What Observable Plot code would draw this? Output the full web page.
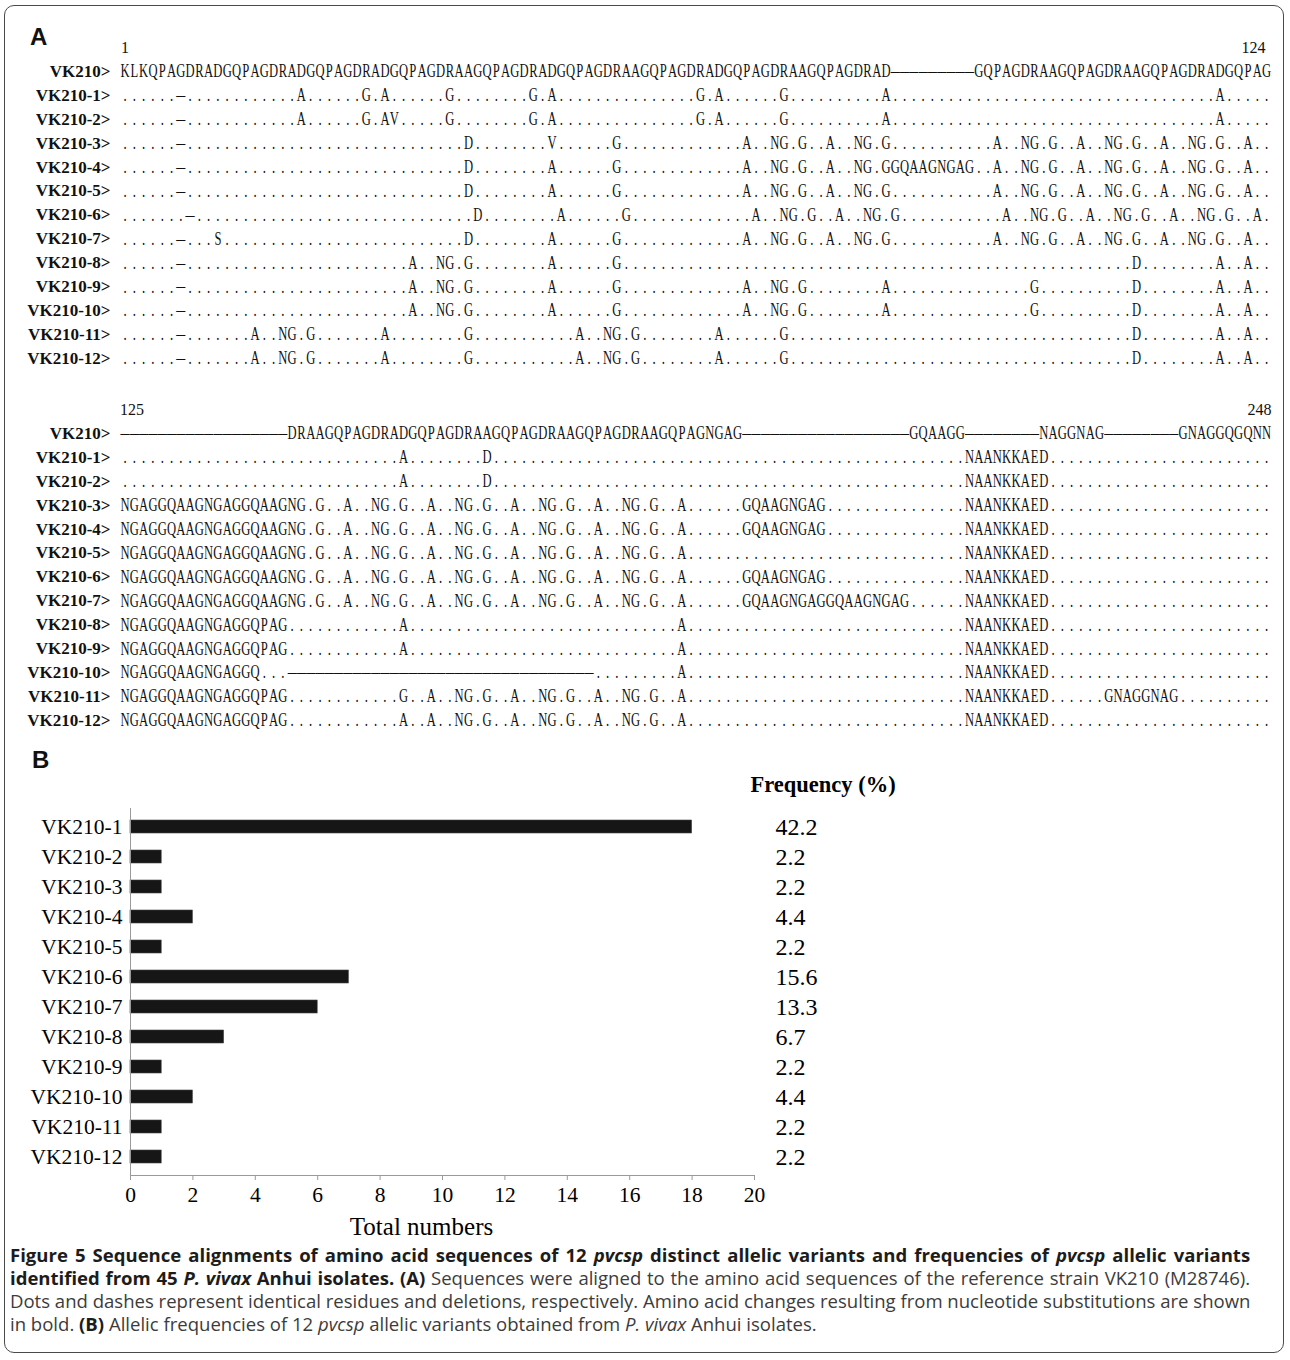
<!DOCTYPE html>
<html>
<head>
<meta charset="utf-8">
<script src="https://cdn.jsdelivr.net/npm/d3@7"></script>
<script src="https://cdn.jsdelivr.net/npm/@observablehq/plot@0.6"></script>
<style>
html,body{margin:0;padding:0;background:#fff;overflow:hidden;}
#page{position:relative;width:1290px;height:1360px;background:#fff;}
.abs{position:absolute;}
.box{position:absolute;left:4px;top:5px;width:1280px;height:1348px;border:1.5px solid #4a4a4a;border-radius:10px;box-sizing:border-box;}
.panel{position:absolute;font-family:"Liberation Sans",Arial,sans-serif;font-weight:bold;font-size:24px;line-height:24px;color:#111;}
.cap{position:absolute;left:10px;font-family:"Open Sans",sans-serif;font-size:18px;line-height:23px;white-space:nowrap;transform-origin:0 0;transform:scaleX(1.03);color:#3c3c3c;}
.cap.j{width:1204px;text-align:justify;text-align-last:justify;}
.cap b{color:#1c1c1c;font-weight:700;}
</style>
</head>
<body>
<div id="page">
  <div class="box"></div>
  <div class="panel" style="left:30px;top:25px;">A</div>
  <div class="panel" style="left:32px;top:748px;">B</div>
  <div id="al1" class="abs" style="left:0;top:0;"></div>
  <div id="al2" class="abs" style="left:0;top:380px;"></div>
  <div id="bars" class="abs" style="left:0;top:760px;"></div>
  <div class="cap j" style="top:1244px;"><b>Figure 5 Sequence alignments of amino acid sequences of 12 <i>pvcsp</i> distinct allelic variants and frequencies of <i>pvcsp</i> allelic variants</b></div>
  <div class="cap j" style="top:1267px;"><b>identified from 45 <i>P. vivax</i> Anhui isolates. (A)</b> Sequences were aligned to the amino acid sequences of the reference strain VK210 (M28746).</div>
  <div class="cap j" style="top:1290px;">Dots and dashes represent identical residues and deletions, respectively. Amino acid changes resulting from nucleotide substitutions are shown</div>
  <div class="cap" style="top:1313px;">in bold. <b>(B)</b> Allelic frequencies of 12 <i>pvcsp</i> allelic variants obtained from <i>P. vivax</i> Anhui isolates.</div>
</div>
<script>
// ---------- Panel A data ----------
const alignCols = 124;
const rowNames = ["VK210","VK210-1","VK210-2","VK210-3","VK210-4","VK210-5","VK210-6","VK210-7","VK210-8","VK210-9","VK210-10","VK210-11","VK210-12"];
const ref1 = "KLKQPAGDRADGQPAGDRADGQPAGDRADGQPAGDRAAGQPAGDRADGQPAGDRAAGQPAGDRADGQPAGDRAAGQPAGDRAD---------GQPAGDRAAGQPAGDRAAGQPAGDRADGQPAG";
const ref2 = "------------------DRAAGQPAGDRADGQPAGDRAAGQPAGDRAAGQPAGDRAAGQPAGNGAG------------------GQAAGG--------NAGGNAG--------GNAGGQGQNN";
// variant rows: [start column (0-based), residues shown]; all other columns are "." (identical)
const block1Changes = [
  [[6,"-"],[19,"A"],[26,"G"],[28,"A"],[35,"G"],[44,"G"],[46,"A"],[62,"G"],[64,"A"],[71,"G"],[82,"A"],[118,"A"]],
  [[6,"-"],[19,"A"],[26,"G"],[28,"AV"],[35,"G"],[44,"G"],[46,"A"],[62,"G"],[64,"A"],[71,"G"],[82,"A"],[118,"A"]],
  [[6,"-"],[37,"D"],[46,"V"],[53,"G"],[67,"A"],[70,"NG"],[73,"G"],[76,"A"],[79,"NG"],[82,"G"],[94,"A"],[97,"NG"],[100,"G"],[103,"A"],[106,"NG"],[109,"G"],[112,"A"],[115,"NG"],[118,"G"],[121,"A"]],
  [[6,"-"],[37,"D"],[46,"A"],[53,"G"],[67,"A"],[70,"NG"],[73,"G"],[76,"A"],[79,"NG"],[82,"GGQAAGNGAG"],[94,"A"],[97,"NG"],[100,"G"],[103,"A"],[106,"NG"],[109,"G"],[112,"A"],[115,"NG"],[118,"G"],[121,"A"]],
  [[6,"-"],[37,"D"],[46,"A"],[53,"G"],[67,"A"],[70,"NG"],[73,"G"],[76,"A"],[79,"NG"],[82,"G"],[94,"A"],[97,"NG"],[100,"G"],[103,"A"],[106,"NG"],[109,"G"],[112,"A"],[115,"NG"],[118,"G"],[121,"A"]],
  [[7,"-"],[38,"D"],[47,"A"],[54,"G"],[68,"A"],[71,"NG"],[74,"G"],[77,"A"],[80,"NG"],[83,"G"],[95,"A"],[98,"NG"],[101,"G"],[104,"A"],[107,"NG"],[110,"G"],[113,"A"],[116,"NG"],[119,"G"],[122,"A"]],
  [[6,"-"],[10,"S"],[37,"D"],[46,"A"],[53,"G"],[67,"A"],[70,"NG"],[73,"G"],[76,"A"],[79,"NG"],[82,"G"],[94,"A"],[97,"NG"],[100,"G"],[103,"A"],[106,"NG"],[109,"G"],[112,"A"],[115,"NG"],[118,"G"],[121,"A"]],
  [[6,"-"],[31,"A"],[34,"NG"],[37,"G"],[46,"A"],[53,"G"],[109,"D"],[118,"A"],[121,"A"]],
  [[6,"-"],[31,"A"],[34,"NG"],[37,"G"],[46,"A"],[53,"G"],[67,"A"],[70,"NG"],[73,"G"],[82,"A"],[98,"G"],[109,"D"],[118,"A"],[121,"A"]],
  [[6,"-"],[31,"A"],[34,"NG"],[37,"G"],[46,"A"],[53,"G"],[67,"A"],[70,"NG"],[73,"G"],[82,"A"],[98,"G"],[109,"D"],[118,"A"],[121,"A"]],
  [[6,"-"],[14,"A"],[17,"NG"],[20,"G"],[28,"A"],[37,"G"],[49,"A"],[52,"NG"],[55,"G"],[64,"A"],[71,"G"],[109,"D"],[118,"A"],[121,"A"]],
  [[6,"-"],[14,"A"],[17,"NG"],[20,"G"],[28,"A"],[37,"G"],[49,"A"],[52,"NG"],[55,"G"],[64,"A"],[71,"G"],[109,"D"],[118,"A"],[121,"A"]]
];
const block2Changes = [
  [[30,"A"],[39,"D"],[91,"NAANKKAED"]],
  [[30,"A"],[39,"D"],[91,"NAANKKAED"]],
  [[0,"NGAGGQAAGNGAGGQAAGNG"],[21,"G"],[24,"A"],[27,"NG"],[30,"G"],[33,"A"],[36,"NG"],[39,"G"],[42,"A"],[45,"NG"],[48,"G"],[51,"A"],[54,"NG"],[57,"G"],[60,"A"],[67,"GQAAGNGAG"],[91,"NAANKKAED"]],
  [[0,"NGAGGQAAGNGAGGQAAGNG"],[21,"G"],[24,"A"],[27,"NG"],[30,"G"],[33,"A"],[36,"NG"],[39,"G"],[42,"A"],[45,"NG"],[48,"G"],[51,"A"],[54,"NG"],[57,"G"],[60,"A"],[67,"GQAAGNGAG"],[91,"NAANKKAED"]],
  [[0,"NGAGGQAAGNGAGGQAAGNG"],[21,"G"],[24,"A"],[27,"NG"],[30,"G"],[33,"A"],[36,"NG"],[39,"G"],[42,"A"],[45,"NG"],[48,"G"],[51,"A"],[54,"NG"],[57,"G"],[60,"A"],[91,"NAANKKAED"]],
  [[0,"NGAGGQAAGNGAGGQAAGNG"],[21,"G"],[24,"A"],[27,"NG"],[30,"G"],[33,"A"],[36,"NG"],[39,"G"],[42,"A"],[45,"NG"],[48,"G"],[51,"A"],[54,"NG"],[57,"G"],[60,"A"],[67,"GQAAGNGAG"],[91,"NAANKKAED"]],
  [[0,"NGAGGQAAGNGAGGQAAGNG"],[21,"G"],[24,"A"],[27,"NG"],[30,"G"],[33,"A"],[36,"NG"],[39,"G"],[42,"A"],[45,"NG"],[48,"G"],[51,"A"],[54,"NG"],[57,"G"],[60,"A"],[67,"GQAAGNGAGGQAAGNGAG"],[91,"NAANKKAED"]],
  [[0,"NGAGGQAAGNGAGGQPAG"],[30,"A"],[60,"A"],[91,"NAANKKAED"]],
  [[0,"NGAGGQAAGNGAGGQPAG"],[30,"A"],[60,"A"],[91,"NAANKKAED"]],
  [[0,"NGAGGQAAGNGAGGQ"],[18,"---------------------------------"],[60,"A"],[91,"NAANKKAED"]],
  [[0,"NGAGGQAAGNGAGGQPAG"],[30,"G"],[33,"A"],[36,"NG"],[39,"G"],[42,"A"],[45,"NG"],[48,"G"],[51,"A"],[54,"NG"],[57,"G"],[60,"A"],[91,"NAANKKAED"],[106,"GNAGGNAG"]],
  [[0,"NGAGGQAAGNGAGGQPAG"],[30,"A"],[33,"A"],[36,"NG"],[39,"G"],[42,"A"],[45,"NG"],[48,"G"],[51,"A"],[54,"NG"],[57,"G"],[60,"A"],[91,"NAANKKAED"]]
];
const posLabels1 = ["1","124"];
const posLabels2 = ["125","248"];
const posCols = [0,123];

// ---------- Panel B data ----------
const variants = ["VK210-1","VK210-2","VK210-3","VK210-4","VK210-5","VK210-6","VK210-7","VK210-8","VK210-9","VK210-10","VK210-11","VK210-12"];
const counts = [18,1,1,2,1,7,6,3,1,2,1,1];
const freqs = ["42.2","2.2","2.2","4.4","2.2","15.6","13.3","6.7","2.2","4.4","2.2","2.2"];
const xTicks = [0,2,4,6,8,10,12,14,16,18,20];

// ---------- build alignment cells ----------
function cells(refStr, changes) {
  const rows = [refStr.split("")];
  for (const segs of changes) {
    const r = new Array(alignCols).fill(".");
    for (const [s, t] of segs) for (let k = 0; k < t.length; k++) r[s + k] = t[k];
    rows.push(r);
  }
  const out = [];
  rows.forEach((r, i) => r.forEach((c, j) => out.push({row: rowNames[i], col: j, ch: c})));
  return out;
}

// narrow the residue glyphs horizontally (the reference uses a condensed serif)
function condense(svg) {
  const g = svg.querySelector('g[aria-label="text"]');
  if (!g) return;
  g.querySelectorAll("text").forEach(el => {
    const t = el.getAttribute("transform");
    if (t) {
      el.setAttribute("transform", t + " scale(0.7,1)");
    } else {
      const x = parseFloat(el.getAttribute("x")) || 0;
      const yAttr = el.getAttribute("y") || "0";
      const yNum = yAttr.endsWith("em") ? 0 : (parseFloat(yAttr) || 0);
      el.removeAttribute("x");
      if (!yAttr.endsWith("em")) el.removeAttribute("y");
      el.setAttribute("transform", `translate(${x},${yNum}) scale(0.7,1)`);
    }
  });
}

function alignPlot(data, labels, yRange, height, anchors) {
  const residues = data.filter(d => d.ch !== "-");
  const gaps = data.filter(d => d.ch === "-");
  const svg = Plot.plot({
    width: 1290, height,
    marginLeft: 120, marginRight: 20, marginTop: 0, marginBottom: 0,
    style: {fontFamily: "'Liberation Serif','Times New Roman',serif", background: "transparent", color: "#111"},
    x: {domain: [0, alignCols - 1], range: [124.6, 1266], axis: null},
    y: {type: "point", domain: ["#", ...rowNames], range: yRange, padding: 0, round: false},
    marks: [
      Plot.axisY({anchor: "left", tickSize: 0, tickPadding: 10, fontSize: 17, fontWeight: "bold", label: null,
                  tickFormat: d => d === "#" ? "" : d + ">"}),
      Plot.text(residues, {x: "col", y: "row", text: "ch", fontSize: 18}),
      Plot.text(gaps, {x: "col", y: "row", text: () => "\u2013", fontSize: 18}),
      Plot.text([labels[0]], {x: [posCols[0]], y: () => "#", text: d => d, fontSize: 16, textAnchor: anchors[0][0], dx: anchors[0][1]}),
      Plot.text([labels[1]], {x: [posCols[1]], y: () => "#", text: d => d, fontSize: 16, textAnchor: anchors[1][0], dx: anchors[1][1]})
    ]
  });
  condense(svg);
  return svg;
}

document.getElementById("al1").append(
  alignPlot(cells(ref1, block1Changes), posLabels1, [47, 358], 380, [["middle", 0], ["end", -1]])
);
document.getElementById("al2").append(
  alignPlot(cells(ref2, block2Changes), posLabels2, [409 - 380, 720 - 380], 360, [["start", -5], ["end", 5]])
);

// ---------- Panel B ----------
const table = variants.map((v, i) => ({variant: v, count: counts[i], freq: freqs[i]}));
const bars = Plot.plot({
  width: 920, height: 480,
  marginTop: 48, marginBottom: 65, marginLeft: 130, marginRight: 166,
  style: {fontFamily: "'Liberation Serif','Times New Roman',serif", fontSize: "21px", background: "transparent", color: "#000"},
  x: {domain: [0, 20]},
  y: {domain: variants, paddingInner: 0.55, paddingOuter: 0.29},
  marks: [
    Plot.barX(table, {x: "count", y: "variant", fill: "#161616", stroke: "#444", strokeWidth: 0.6}),
    Plot.ruleX([0], {stroke: "#9a9a9a"}),
    Plot.frame({anchor: "bottom", stroke: "#9a9a9a"}),
    Plot.axisY({tickSize: 0, tickPadding: 8, fontSize: 21.5, label: null}),
    Plot.axisX({ticks: xTicks, tickSize: 5, tickPadding: 6, stroke: "#9a9a9a", fontSize: 21.5, label: null}),
    Plot.text(["Total numbers"], {frameAnchor: "bottom", text: d => d, lineAnchor: "middle", textAnchor: "middle", dy: 51, dx: -21, fontSize: 25}),
    Plot.text(table, {y: "variant", text: "freq", frameAnchor: "right", textAnchor: "start", dx: 21, fontSize: 24}),
    Plot.text(["Frequency (%)"], {frameAnchor: "top-right", text: d => d, textAnchor: "start", lineAnchor: "middle", dx: -4, dy: -24, fontWeight: "bold", fontSize: 22.5})
  ]
});
document.getElementById("bars").append(bars);
</script>
</body>
</html>
